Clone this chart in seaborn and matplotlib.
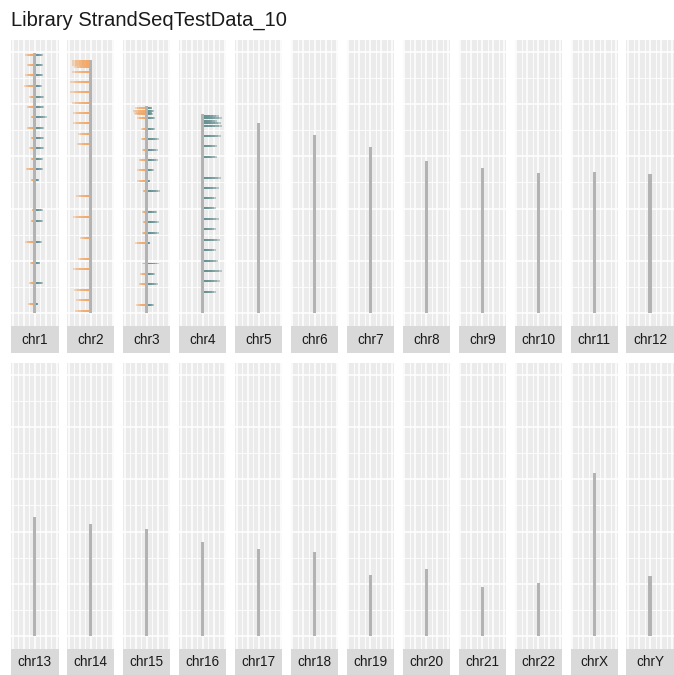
import matplotlib
matplotlib.use("Agg")
import matplotlib.pyplot as plt
import seaborn as sns
import numpy as np

# chromosome names and lengths (Mb)
chroms = ["chr1", "chr2", "chr3", "chr4", "chr5", "chr6", "chr7", "chr8", "chr9", "chr10", "chr11", "chr12",
          "chr13", "chr14", "chr15", "chr16", "chr17", "chr18", "chr19", "chr20", "chr21", "chr22", "chrX", "chrY"]
chrom_len = [248.96, 242.19, 198.30, 190.21, 181.54, 170.81, 159.35, 145.14, 138.39, 133.80, 135.09, 133.28,
             114.36, 107.04, 101.99, 90.34, 83.26, 80.37, 58.62, 64.44, 46.71, 50.82, 156.04, 57.23]

# read bins (position in Mb, watson count to the left, crick count to the right)
chr1_pos = [246.9, 237.4, 227.6, 217.4, 207.2, 197.3, 187.5, 177.3, 167.5, 157.6, 147.8, 137.9, 127.7,
            98.2, 88.0, 68.4, 48.3, 28.3, 8.3]
chr1_w = [8, 6, 8, 9, 4, 6, 2, 6, 2, 4, 2, 7, 2, 1, 2, 8, 3, 4, 5]
chr1_c = [7, 7, 7, 6, 8, 8, 11, 8, 8, 8, 7, 7, 3, 7, 7, 6, 4, 7, 2]

chr2_pos = [241.2, 239.3, 237.4, 235.5, 231.2, 221.2, 211.3, 201.4, 191.6, 181.8, 171.6, 161.8,
            111.8, 91.8, 72.1, 52.1, 41.9, 22.2, 12.4, 2.2]
chr2_w = [17, 17, 17, 15, 17, 19, 19, 17, 16, 16, 11, 12, 13, 16, 9, 11, 16, 15, 13, 14]
chr2_c = [0] * 20

chr3_pos = [196.1, 193.8, 191.9, 190.4, 186.6, 176.4, 166.5, 156.3, 146.5, 136.6, 126.8, 117.0,
            97.0, 87.0, 76.9, 66.7, 47.4, 37.2, 27.4, 7.3]
chr3_w = [10, 12, 11, 10, 8, 4, 4, 3, 6, 8, 8, 2, 3, 2, 3, 10, 3, 5, 6, 9]
chr3_c = [4, 6, 4, 5, 7, 7, 11, 10, 10, 6, 2, 12, 9, 11, 11, 2, 11, 7, 10, 6]

chr4_pos = [188.8, 186.6, 184.3, 181.8, 179.2, 169.7, 159.5, 149.7, 129.6, 119.8, 109.9, 100.1,
            89.9, 80.1, 69.9, 60.1, 49.9, 40.0, 30.2, 20.3]
chr4_w = [0] * 20
chr4_c = [15, 18, 13, 17, 18, 17, 13, 13, 17, 15, 12, 12, 15, 12, 16, 12, 14, 18, 16, 12]

reads = {"chr1": (chr1_pos, chr1_w, chr1_c), "chr2": (chr2_pos, chr2_w, chr2_c),
         "chr3": (chr3_pos, chr3_w, chr3_c), "chr4": (chr4_pos, chr4_w, chr4_c)}

sns.set_theme(style="darkgrid", rc={"axes.facecolor": "#EBEBEB", "grid.color": "white"})
plt.rcParams["font.family"] = ["Liberation Sans", "DejaVu Sans"]

W, H = 674, 675
fig = plt.figure(figsize=(W / 100, H / 100), dpi=100)
fig.patch.set_facecolor("white")

watson_col = "#F4A460"
crick_col = "#5E8A8A"
bar_w = 3.4
half = bar_w / 2
xlim = 23.7
ymax = max(chrom_len)
ylo, yhi = -0.05 * ymax, 1.05 * ymax

left0, pitch, pw = 11, 55.95, 47.5
rows = [(40, 326, 353), (363, 649, 676)]

for i, (name, length) in enumerate(zip(chroms, chrom_len)):
    r, c = divmod(i, 12)
    top, bot, sbot = rows[r]
    x0 = left0 + c * pitch
    ax = fig.add_axes([x0 / W, 1 - bot / H, pw / W, (bot - top) / H])
    ax.set_xlim(-xlim, xlim)
    ax.set_ylim(ylo, yhi)
    ax.set_xticks([-22, -11, 0, 11, 22])
    ax.set_xticks([-16.5, -5.5, 5.5, 16.5], minor=True)
    ax.set_yticks(np.arange(0, 251, 50))
    ax.set_yticks(np.arange(25, 251, 50), minor=True)
    ax.grid(which="major", color="white", lw=1.1)
    ax.grid(which="minor", color="white", lw=0.6)
    ax.tick_params(which="both", length=0, labelleft=False, labelbottom=False)
    for s in ax.spines.values():
        s.set_visible(False)

    if name in reads:
        pos, wc, cc = reads[name]
        n = 5
        for k in range(n):
            f = (k + 1) / n
            ax.barh(pos, [-v * f for v in wc], left=-half, height=1.9, color=watson_col,
                    alpha=0.4, lw=0, zorder=2)
            ax.barh(pos, [v * f for v in cc], left=half, height=1.9, color=crick_col,
                    alpha=0.4, lw=0, zorder=2)
    ax.bar([0], [length], width=bar_w, bottom=0, color="#B3B3B3", lw=0, zorder=3)

    # strip
    sax = fig.add_axes([x0 / W, 1 - sbot / H, pw / W, (sbot - bot) / H])
    sax.set_facecolor("#D9D9D9")
    sax.grid(False)
    sax.set_xticks([])
    sax.set_yticks([])
    for s in sax.spines.values():
        s.set_visible(False)
    sax.text(0.5, 0.5, name, ha="center", va="center", fontsize=9.8, color="#1A1A1A",
             transform=sax.transAxes)

fig.text(11 / W, 1 - 20 / H, "Library StrandSeqTestData_10", ha="left", va="center",
         fontsize=14.5, color="#1A1A1A")

fig.savefig("out.png", dpi=100)
